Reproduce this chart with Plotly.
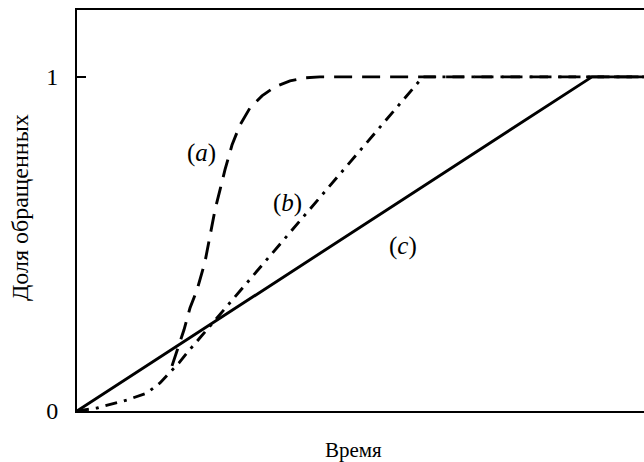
import plotly.graph_objects as go

# Time axis (arbitrary units) and fraction converted
t_c = [0.0, 10.0, 11.01]
y_c = [0.0, 1.0, 1.0]

t_b = [0.0, 0.388, 0.971, 1.359, 1.612, 1.806, 1.981, 2.136, 2.388, 6.718, 11.01]
y_b = [0.0, 0.009, 0.033, 0.054, 0.084, 0.114, 0.144, 0.174, 0.219, 1.0, 1.0]

t_a = [1.845, 1.961, 2.078, 2.194, 2.330, 2.485, 2.583, 2.680, 2.777, 2.874,
       3.010, 3.165, 3.359, 3.592, 3.845, 4.136, 4.427, 4.718, 11.01]
y_a = [0.135, 0.192, 0.243, 0.308, 0.362, 0.446, 0.527, 0.602, 0.662, 0.722,
       0.796, 0.856, 0.907, 0.943, 0.970, 0.988, 0.997, 1.0, 1.0]

curve_labels = ["(<i>a</i>)", "(<i>b</i>)", "(<i>c</i>)"]
label_t = [2.427, 4.078, 6.330]
label_y = [0.772, 0.623, 0.494]

y_ticks = [0, 1]
y_ticktext = ["0", "1"]

FONT = "Liberation Serif"

fig = go.Figure()
fig.add_trace(go.Scatter(x=t_c, y=y_c, mode="lines",
                         line=dict(color="black", width=2.9)))
fig.add_trace(go.Scatter(x=t_b, y=y_b, mode="lines",
                         line=dict(color="black", width=2.9, dash="12px,7px,3px,7px")))
fig.add_trace(go.Scatter(x=t_a, y=y_a, mode="lines",
                         line=dict(color="black", width=2.9, dash="18px,10px")))

for txt, tx, ty in zip(curve_labels, label_t, label_y):
    fig.add_annotation(x=tx, y=ty, text=txt, showarrow=False,
                       font=dict(family=FONT, size=25, color="black"))

fig.add_annotation(xref="paper", yref="paper", x=0.4885, y=-0.097,
                   text="Время", showarrow=False, yanchor="middle",
                   font=dict(family=FONT, size=21, color="black"))
fig.add_annotation(xref="paper", yref="paper", x=-0.1005, y=0.506,
                   text="Доля обращенных", showarrow=False, textangle=-90,
                   xanchor="center", yanchor="middle",
                   font=dict(family=FONT, size=24, color="black"))

fig.update_layout(
    width=644, height=462,
    margin=dict(l=77, r=0, t=10, b=51),
    paper_bgcolor="white", plot_bgcolor="white",
    showlegend=False,
    font=dict(family=FONT, color="black"),
)
fig.update_xaxes(range=[0, 11.01], showgrid=False, zeroline=False,
                 showline=True, linecolor="black", linewidth=2, mirror=True,
                 showticklabels=False, ticks="")
fig.update_yaxes(range=[0, 1.2], showgrid=False, zeroline=False,
                 showline=True, linecolor="black", linewidth=2,
                 tickvals=y_ticks, ticktext=y_ticktext,
                 ticks="inside", ticklen=9, tickwidth=2, tickcolor="black",
                 ticklabelstandoff=12,
                 tickfont=dict(family=FONT, size=24, color="black"))

fig.write_html("out.html")
